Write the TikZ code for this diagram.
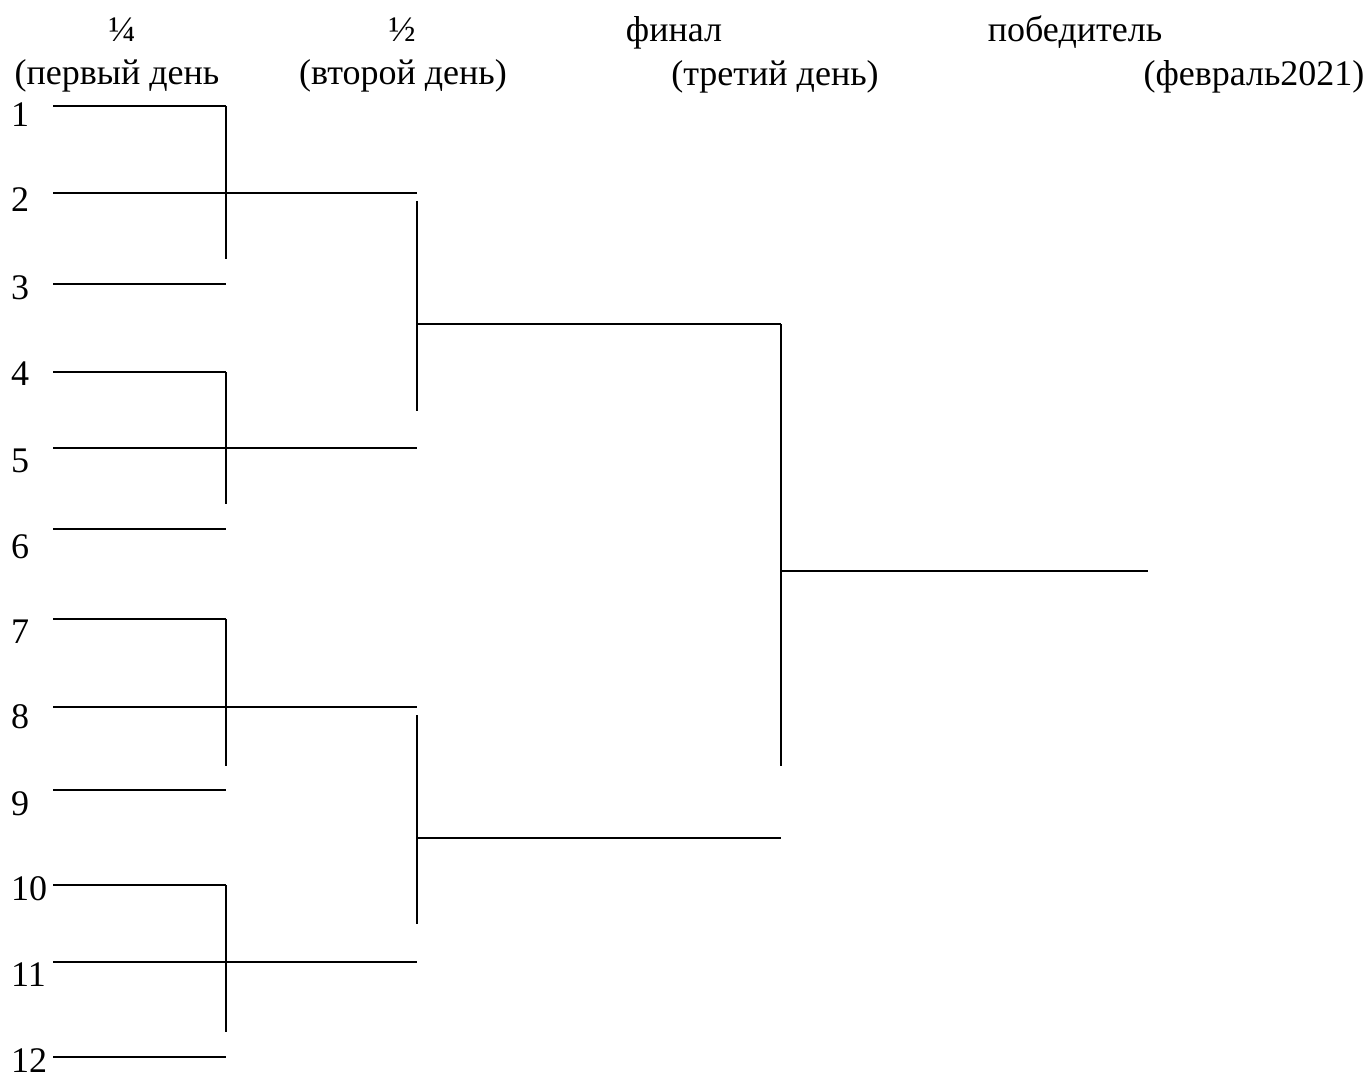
\documentclass[tikz,border=0pt]{standalone}
\usepackage{fontspec}
\setmainfont{Liberation Serif}
\begin{document}
\begin{tikzpicture}[x=1pt,y=-1pt,
  ln/.style={line width=1.8pt,line cap=butt},
  lbl/.style={inner sep=0pt,anchor=base west,font=\fontsize{36}{40}\selectfont},
  hdr/.style={inner sep=0pt,anchor=base,font=\fontsize{36}{40}\selectfont}]
\useasboundingbox (0,0) rectangle (1372,1075);
% headers
\node[hdr] (h1a) at (122,42) {¼};
\node[hdr] (h2a) at (402,42) {½};
\node[hdr] (h3a) at (674,42) {финал};
\node[hdr] (h4a) at (1075,42) {победитель};
\node[hdr] (h1b) at (117,85) {(первый день};
\node[hdr] (h2b) at (403,85) {(второй день)};
\node[hdr] (h3b) at (775,86) {(третий день)};
\node[hdr] (h4b) at (1254,86) {(февраль2021)};
% number labels
\node[lbl] (n1) at (11,127) {1};
\node[lbl] (n2) at (11,212) {2};
\node[lbl] (n3) at (11,299) {3};
\node[lbl] (n4) at (11,385) {4};
\node[lbl] (n5) at (11,472) {5};
\node[lbl] (n6) at (11,558) {6};
\node[lbl] (n7) at (11,643) {7};
\node[lbl] (n8) at (11,728) {8};
\node[lbl] (n9) at (11,815) {9};
\node[lbl] (n10) at (11,900) {10};
\node[lbl] (n11) at (11,986) {11};
\node[lbl] (n12) at (11,1072) {12};
% coordinates of the bracket
\foreach \i/\y in {1/106,2/193,3/284,4/372,5/448,6/529,7/619,8/707,9/790,10/885,11/962,12/1057}{
  \coordinate (s\i) at (53,\y);
  \coordinate (q\i) at (226,\y);
  \coordinate (w\i) at (417,\y);
}
% first round
\draw[ln] (s1) -- (q1);
\draw[ln] (s3) -- (q3);
\draw[ln] (s4) -- (q4);
\draw[ln] (s6) -- (q6);
\draw[ln] (s7) -- (q7);
\draw[ln] (s9) -- (q9);
\draw[ln] (s10) -- (q10);
\draw[ln] (s12) -- (q12);
\draw[ln] (s2) -- (w2);
\draw[ln] (s5) -- (w5);
\draw[ln] (s8) -- (w8);
\draw[ln] (s11) -- (w11);
% first round verticals
\coordinate (v1e) at (226,259);
\coordinate (v2e) at (226,504);
\coordinate (v3e) at (226,766);
\coordinate (v4e) at (226,1032);
\draw[ln] (q1) -- (v1e);
\draw[ln] (q4) -- (v2e);
\draw[ln] (q7) -- (v3e);
\draw[ln] (q10) -- (v4e);
% semifinal
\coordinate (sa1) at (417,201);
\coordinate (sa2) at (417,411);
\coordinate (sb1) at (417,715);
\coordinate (sb2) at (417,924);
\draw[ln] (sa1) -- (sa2);
\draw[ln] (sb1) -- (sb2);
\coordinate (fa) at (417,324);
\coordinate (fb) at (417,838);
\coordinate (fa2) at (781,324);
\coordinate (fb2) at (781,838);
\draw[ln] (fa) -- (fa2);
\draw[ln] (fb) -- (fb2);
% final
\coordinate (fv) at (781,766);
\draw[ln] (fa2) -- (fv);
\coordinate (wa) at (781,571);
\coordinate (wb) at (1148,571);
\draw[ln] (wa) -- (wb);
\end{tikzpicture}
\end{document}
